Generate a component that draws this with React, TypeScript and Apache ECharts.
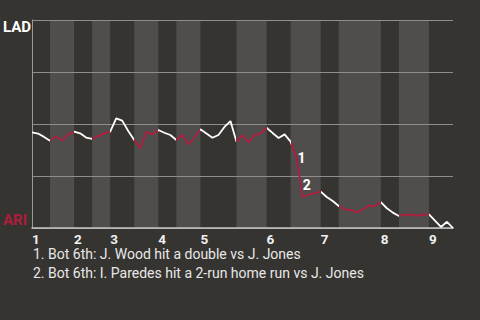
import React, { useEffect, useRef } from "react";
import * as echarts from "echarts";

// Win probability for LAD (1 = LAD win, 0 = ARI win), one value per event
const ladWinProb = [
  0.46, 0.454, 0.438, 0.42, 0.441, 0.42, 0.449, 0.463, 0.455, 0.435,
  0.428, 0.442, 0.455, 0.463, 0.527, 0.516, 0.466, 0.423, 0.383, 0.462,
  0.45, 0.471, 0.458, 0.447, 0.423, 0.447, 0.402, 0.435, 0.475, 0.454,
  0.434, 0.447, 0.486, 0.514, 0.415, 0.447, 0.412, 0.447, 0.455, 0.482,
  0.457, 0.433, 0.45, 0.415, 0.337, 0.149, 0.161, 0.168, 0.175, 0.149,
  0.13, 0.106, 0.09, 0.087, 0.075, 0.089, 0.106, 0.106, 0.124, 0.095,
  0.074, 0.058, 0.063, 0.065, 0.06, 0.063, 0.066, 0.035, 0.005, 0.03,
  0,
];

// Event index where each half inning begins
const topStarts = [0, 7, 13, 21, 28, 39, 48, 58, 66];
const bottomStarts = [3, 10, 17, 24, 34, 43, 51, 61];
const lastEvent = 70;

const annotations = [
  { event: 44, label: "1", text: "Bot 6th: J. Wood hit a double vs J. Jones" },
  { event: 45, label: "2", text: "Bot 6th: I. Paredes hit a 2-run home run vs J. Jones" },
];

const WHITE = "#ffffff";
const RED = "#b01c3c";
const BG = "#363430";
const BAND = "#4f4e4c";

export default function App() {
  const ref = useRef<HTMLDivElement>(null);
  useEffect(() => {
    if (!ref.current) return;
    const chart = echarts.init(ref.current, undefined, { renderer: "svg" });
    const pairs = ladWinProb.map((v, i) => [i, v]);
    const bounds = [...topStarts, ...bottomStarts].sort((a, b) => a - b);
    const pieces = bounds.map((b, i) => {
      const next = i + 1 < bounds.length ? bounds[i + 1] : lastEvent + 1;
      const isBottom = bottomStarts.includes(b);
      return { gte: b, lt: next, color: isBottom ? RED : WHITE };
    });
    const bands = bottomStarts.map((b) => {
      const nextTop = topStarts.find((t) => t > b);
      return [{ xAxis: b }, { xAxis: nextTop === undefined ? lastEvent : nextTop }];
    });
    const offsets: Record<string, number[]> = { "1": [5, 0], "2": [4, -12] };

    const option: any = {
      animation: false,
      backgroundColor: BG,
      textStyle: { fontFamily: "Roboto" },
      grid: { left: 32, right: 27, top: 20, bottom: 92 },
      xAxis: {
        type: "value",
        min: 0,
        max: lastEvent,
        z: 3,
        axisLine: { lineStyle: { color: "#c4c4c4", width: 1.5 } },
        axisTick: { show: false },
        splitLine: { show: false },
        axisLabel: {
          customValues: topStarts,
          formatter: (v: number) => String(topStarts.indexOf(v) + 1),
          align: "left",
          color: "#f0f0f0",
          fontWeight: "bold",
          fontSize: 13.5,
          lineHeight: 11,
          margin: 5,
        },
      },
      yAxis: {
        type: "value",
        min: 0,
        max: 1,
        interval: 0.25,
        z: 3,
        axisLine: { show: true, lineStyle: { color: "#9a9a9a" } },
        axisTick: { show: false },
        axisLabel: { show: false },
        splitLine: { lineStyle: { color: "#8e8e8e" } },
      },
      visualMap: {
        type: "piecewise",
        show: false,
        dimension: 0,
        seriesIndex: 1,
        pieces,
        outOfRange: { color: WHITE },
      },
      series: [
        {
          type: "line",
          data: pairs,
          symbol: "none",
          lineStyle: { opacity: 0 },
          z: 1,
          silent: true,
          markArea: { silent: true, itemStyle: { color: BAND }, data: bands },
        },
        {
          type: "line",
          data: pairs,
          symbol: "none",
          lineStyle: { width: 1.8 },
          z: 5,
          markPoint: {
            symbol: "circle",
            symbolSize: 0,
            silent: true,
            data: annotations.map((a) => ({
              coord: [a.event, ladWinProb[a.event]],
              label: {
                show: true,
                formatter: a.label,
                color: "#ffffff",
                fontWeight: "bold",
                fontSize: 14,
                fontFamily: "Roboto",
                position: "inside",
                offset: offsets[a.label],
              },
            })),
          },
        },
      ],
      graphic: [
        {
          type: "text",
          left: 3,
          top: 19,
          style: { text: "LAD", fill: "#ffffff", font: "bold 15px Roboto" },
        },
        {
          type: "text",
          left: 3,
          top: 212,
          style: { text: "ARI", fill: RED, font: "bold 15px Roboto" },
        },
        ...annotations.map((a, i) => ({
          type: "text",
          left: 33,
          top: 247 + i * 18.5,
          style: {
            text: `${a.label}. ${a.text}`,
            fill: "#e8e8e8",
            font: "14px Roboto",
            lineHeight: 13,
          },
        })),
      ],
    };
    chart.setOption(option);
    return () => chart.dispose();
  }, []);
  return (
    <div
      ref={ref}
      style={{ position: "fixed", left: 0, top: 0, width: 480, height: 320 }}
    />
  );
}
